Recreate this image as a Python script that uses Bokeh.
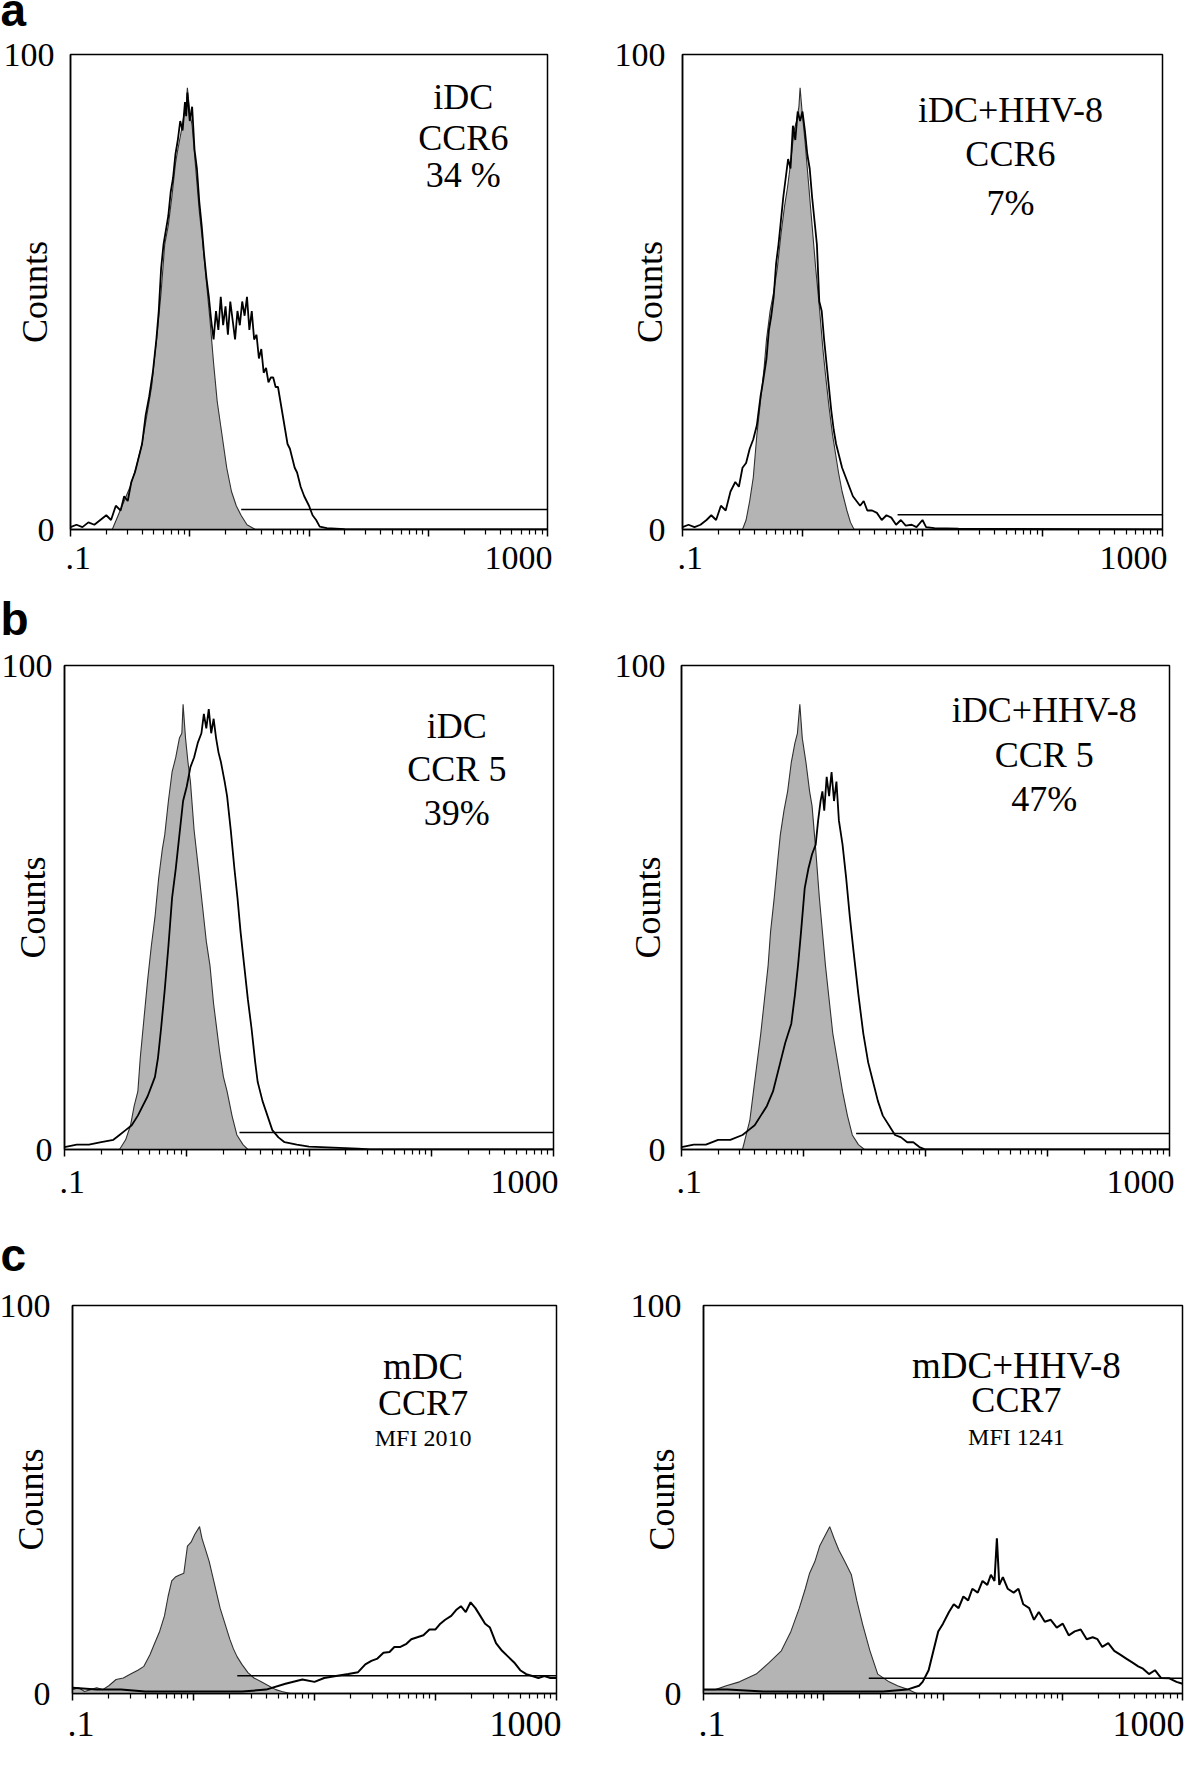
import math
from bokeh.plotting import figure
from bokeh.layouts import column, row
from bokeh.models import (FixedTicker, Label, Range1d, CustomJSTickFormatter, LogAxis)
from bokeh.embed import file_html
from bokeh.resources import INLINE

# ---------------- data (x given as log10 of fluorescence intensity) ----------------
x_major_ticks = [0.1, 1, 10, 100, 1000]
x_minor_ticks = [m * d for d in [0.1, 1, 10, 100] for m in range(2, 10)]
x_tick_labels = [".1", "1000"]
y_tick_values = [0, 100]

# panel a, left: iDC CCR6
a1_ctrl_lx = [-0.65, -0.60, -0.55, -0.50, -0.45, -0.40, -0.36, -0.32, -0.30, -0.27,
              -0.24, -0.21, -0.18, -0.15, -0.12, -0.10, -0.07, -0.05, -0.03, -0.02,
              0.00, 0.02, 0.05, 0.08, 0.11, 0.14, 0.17, 0.20, 0.23, 0.27,
              0.31, 0.35, 0.39, 0.43, 0.48, 0.55]
a1_ctrl_y = [0, 3, 6, 9, 13, 18, 24, 30, 35, 42,
             50, 60, 64, 70, 77, 80, 84, 87, 89, 93,
             88, 85, 76, 67, 60, 52, 44, 35, 27, 20,
             13, 8, 5, 3, 1, 0]
a1_samp_lx = [-1.00, -0.95, -0.90, -0.85, -0.80, -0.75, -0.70, -0.66, -0.62, -0.58,
              -0.55, -0.52, -0.49, -0.46, -0.43, -0.40, -0.37, -0.34, -0.31, -0.28,
              -0.26, -0.24, -0.22, -0.20, -0.18, -0.16, -0.14, -0.12, -0.10, -0.08,
              -0.06, -0.04, -0.03, -0.02, 0.00, 0.02, 0.04, 0.06, 0.08, 0.10,
              0.12, 0.14, 0.16, 0.18, 0.20, 0.22, 0.24, 0.26, 0.28, 0.30,
              0.32, 0.34, 0.36, 0.38, 0.40, 0.42, 0.44, 0.46, 0.48, 0.50,
              0.52, 0.54, 0.56, 0.58, 0.60, 0.62, 0.64, 0.66, 0.68, 0.70,
              0.72, 0.74, 0.76, 0.78, 0.80, 0.82, 0.84, 0.86, 0.88, 0.90,
              0.93, 0.96, 1.00, 1.03, 1.06, 1.09, 1.15, 1.30, 3.00]
a1_samp_y = [0.5, 1, 0.5, 1.5, 1, 2, 3, 2, 5, 4,
             7, 6, 10, 12, 15, 18, 24, 28, 33, 40,
             46, 55, 60, 63, 66, 71, 74, 79, 82, 86,
             84, 90, 87, 92, 86, 89, 80, 76, 69, 64,
             58, 53, 49, 44, 40, 46, 42, 49, 43, 47,
             41, 48, 44, 40, 46, 43, 48, 45, 49, 42,
             46, 40, 41, 36, 38, 33, 34, 31, 32, 32,
             30, 30, 27, 24, 21, 18, 17, 15, 13, 12,
             9, 7, 5, 3, 2, 0.6, 0.3, 0.1, 0]

# panel a, right: iDC+HHV-8 CCR6
a2_ctrl_lx = [-0.50, -0.47, -0.44, -0.41, -0.38, -0.35, -0.32, -0.30, -0.27, -0.24,
              -0.21, -0.18, -0.15, -0.125, -0.10, -0.07, -0.05, -0.03, -0.02, 0.00,
              0.02, 0.05, 0.08, 0.11, 0.14, 0.17, 0.19, 0.22, 0.25, 0.275,
              0.30, 0.33, 0.37, 0.40, 0.43]
a2_ctrl_y = [0, 2, 6, 11, 20, 27, 34, 40, 46, 50,
             55, 62, 68, 72, 77, 84, 86, 89, 93, 87,
             82, 73, 64, 55, 47, 38, 33, 26, 20, 16,
             12, 8, 4, 1.5, 0]
a2_samp_lx = [-1.00, -0.95, -0.90, -0.85, -0.80, -0.76, -0.72, -0.68, -0.64, -0.60,
              -0.56, -0.53, -0.50, -0.47, -0.44, -0.41, -0.38, -0.35, -0.33, -0.30,
              -0.28, -0.26, -0.24, -0.22, -0.20, -0.18, -0.16, -0.14, -0.12, -0.10,
              -0.08, -0.06, -0.04, -0.02, 0.00, 0.02, 0.04, 0.06, 0.08, 0.10,
              0.12, 0.14, 0.16, 0.18, 0.20, 0.22, 0.24, 0.26, 0.28, 0.30,
              0.33, 0.36, 0.39, 0.42, 0.45, 0.48, 0.51, 0.54, 0.58, 0.62,
              0.66, 0.70, 0.74, 0.78, 0.82, 0.86, 0.91, 0.95, 1.00, 1.03,
              1.10, 1.30, 3.00]
a2_samp_y = [0.5, 1, 0.5, 1, 2, 3, 2, 5, 4, 8,
             10, 9, 13, 14, 17, 19, 22, 28, 31, 36,
             42, 45, 49, 56, 60, 65, 70, 74, 78, 76,
             85, 82, 88, 86, 88, 84, 79, 76, 70, 65,
             60, 48, 46, 40, 35, 30, 25, 21, 18, 16,
             13, 11, 9, 7, 6, 5, 6, 4, 4, 3.5,
             2, 3, 2.5, 1, 2, 0.8, 1, 0.5, 2, 0.5,
             0.3, 0.2, 0]

# panel b, left: iDC CCR5
b1_ctrl_lx = [-0.55, -0.50, -0.46, -0.43, -0.40, -0.38, -0.35, -0.32, -0.29, -0.26,
              -0.23, -0.20, -0.18, -0.15, -0.12, -0.09, -0.06, -0.04, -0.03, -0.01,
              0.01, 0.03, 0.06, 0.10, 0.13, 0.16, 0.19, 0.22, 0.25, 0.27,
              0.30, 0.33, 0.37, 0.41, 0.46, 0.50]
b1_ctrl_y = [0, 2, 5, 9, 12, 19, 27, 35, 42, 48,
             56, 62, 65, 72, 78, 81, 85, 86, 92, 85,
             80, 76, 66, 57, 50, 43, 38, 30, 24, 20,
             15, 12, 7, 3, 1, 0]
b1_samp_lx = [-1.00, -0.90, -0.80, -0.70, -0.60, -0.55, -0.50, -0.45, -0.40, -0.36,
              -0.32, -0.29, -0.26, -0.235, -0.21, -0.18, -0.15, -0.12, -0.09, -0.06,
              -0.03, 0.00, 0.03, 0.06, 0.09, 0.12, 0.14, 0.16, 0.18, 0.20,
              0.22, 0.24, 0.26, 0.28, 0.31, 0.33, 0.36, 0.39, 0.415, 0.44,
              0.47, 0.50, 0.53, 0.56, 0.58, 0.62, 0.66, 0.70, 0.75, 0.80,
              0.90, 1.00, 1.20, 1.40, 1.50, 3.00]
b1_samp_y = [0.5, 1, 1, 1.5, 2, 3, 4, 5, 7, 9,
             11, 13, 15, 19, 25, 33, 42, 52, 58, 65,
             72, 75, 79, 81, 84, 86, 90, 87, 91, 86,
             89, 85, 82, 80, 76, 73, 66, 58, 52, 45,
             38, 31, 25, 18, 14, 10, 7, 4, 2.5, 1.5,
             1, 0.6, 0.4, 0.2, 0, 0]

# panel b, right: iDC+HHV-8 CCR5
b2_ctrl_lx = [-0.50, -0.47, -0.44, -0.41, -0.38, -0.35, -0.32, -0.29, -0.27, -0.24,
              -0.21, -0.19, -0.16, -0.13, -0.10, -0.07, -0.05, -0.03, -0.01, 0.02,
              0.05, 0.07, 0.10, 0.13, 0.155, 0.18, 0.21, 0.24, 0.28, 0.32,
              0.36, 0.40, 0.45, 0.50]
b2_ctrl_y = [0, 3, 6, 12, 18, 24, 31, 38, 45, 52,
             60, 65, 70, 74, 80, 84, 86, 92, 85, 80,
             74, 71, 62, 52, 45, 38, 31, 24, 18, 12,
             7, 3, 1, 0]
b2_samp_lx = [-1.00, -0.90, -0.80, -0.70, -0.60, -0.50, -0.45, -0.40, -0.35, -0.30,
              -0.25, -0.19, -0.15, -0.10, -0.07, -0.045, -0.02, 0.01, 0.04, 0.07,
              0.10, 0.12, 0.14, 0.155, 0.17, 0.19, 0.21, 0.23, 0.25, 0.27,
              0.29, 0.32, 0.35, 0.38, 0.41, 0.45, 0.49, 0.53, 0.57, 0.61,
              0.65, 0.70, 0.75, 0.80, 0.85, 0.90, 0.95, 1.00, 3.00]
b2_samp_y = [0.5, 1, 1, 2, 2, 3, 4, 5, 7, 9,
             12, 18, 22, 26, 32, 38, 45, 54, 58, 61,
             63, 68, 72, 74, 70, 77, 73, 78, 72, 76,
             68, 63, 56, 48, 41, 32, 24, 18, 14, 10,
             7, 5, 3, 2.5, 1.5, 1.5, 0.5, 0, 0]

# panel c, left: mDC CCR7
c1_ctrl_lx = [-1.00, -0.95, -0.90, -0.85, -0.80, -0.75, -0.70, -0.64, -0.58, -0.52,
              -0.46, -0.41, -0.36, -0.32, -0.28, -0.24, -0.21, -0.18, -0.15, -0.12,
              -0.08, -0.05, -0.02, 0.01, 0.05, 0.07, 0.10, 0.13, 0.16, 0.19,
              0.22, 0.26, 0.30, 0.33, 0.36, 0.40, 0.45, 0.50, 0.56, 0.62,
              0.68, 0.73, 0.80]
c1_ctrl_y = [1, 1.5, 0.5, 1, 1.5, 1, 2, 3.6, 4, 5,
             6, 7, 10, 13, 16, 20, 25, 29, 30, 30.5,
             31, 38, 39, 41, 43, 40, 37, 34, 30, 26,
             22, 18, 14, 11.5, 9.5, 7.5, 5.4, 4, 3, 2,
             1, 0.5, 0]
c1_samp_lx = [-1.00, -0.80, -0.60, -0.40, 0.00, 0.40, 0.60, 0.76, 0.90, 1.00,
              1.08, 1.19, 1.28, 1.36, 1.42, 1.47, 1.52, 1.57, 1.62, 1.66,
              1.71, 1.76, 1.80, 1.85, 1.90, 1.95, 2.00, 2.04, 2.08, 2.13,
              2.17, 2.21, 2.25, 2.29, 2.33, 2.37, 2.41, 2.45, 2.50, 2.55,
              2.60, 2.65, 2.70, 2.75, 2.80, 2.85, 2.90, 2.95, 3.00]
c1_samp_y = [1.5, 1, 1, 0.5, 0.5, 0.5, 1, 2.5, 3.6, 3,
             4, 4.6, 5, 5.5, 7.5, 8.4, 9, 10.5, 10.7, 12,
             12, 12.8, 14, 14.5, 15, 16.5, 16.5, 18, 19, 20,
             21.5, 22.5, 21, 23.5, 22, 20, 18, 17, 13, 11,
             9.5, 8, 6, 5, 4.5, 4, 4.5, 4, 4]

# panel c, right: mDC+HHV-8 CCR7
c2_ctrl_lx = [-1.00, -0.90, -0.81, -0.70, -0.56, -0.45, -0.35, -0.27, -0.20, -0.15,
              -0.114, -0.07, -0.03, 0.02, 0.054, 0.09, 0.13, 0.18, 0.235, 0.28,
              0.33, 0.39, 0.455, 0.55, 0.62, 0.71, 0.78]
c2_ctrl_y = [1, 1, 2, 3, 5, 8, 11, 16, 22, 27,
             31, 34, 38, 41, 43, 40, 37, 34, 30.6, 24,
             17.7, 11, 5, 3, 2, 1, 0]
c2_samp_lx = [-1.00, -0.80, -0.50, 0.00, 0.50, 0.70, 0.80, 0.83, 0.88, 0.92,
              0.96, 1.00, 1.05, 1.09, 1.13, 1.17, 1.21, 1.245, 1.29, 1.33,
              1.37, 1.40, 1.43, 1.45, 1.47, 1.50, 1.54, 1.59, 1.63, 1.67,
              1.72, 1.76, 1.80, 1.85, 1.90, 1.95, 2.00, 2.05, 2.10, 2.15,
              2.20, 2.25, 2.29, 2.33, 2.38, 2.43, 2.48, 2.53, 2.58, 2.63,
              2.67, 2.72, 2.77, 2.82, 2.89, 2.95, 3.00]
c2_samp_y = [1, 1, 0.5, 0.5, 0.5, 1, 2, 3, 6, 11,
             16, 18, 21, 23, 22, 25, 24, 27, 26, 29,
             28, 30.6, 29, 40, 28, 30, 27, 26, 27, 23,
             22, 19, 21, 18.5, 19, 17, 18, 15, 16, 16.5,
             14, 14.5, 14, 12, 13, 11, 10, 9, 8, 7,
             6.4, 5, 6, 4, 3.9, 3, 2.5]

# marker (gate) start and level for each panel
gate_start = {"a1": 2.7, "a2": 6.2, "b1": 2.7, "b2": 2.7, "c1": 2.3, "c2": 2.4}
gate_level = {"a1": 4.2, "a2": 3.1, "b1": 3.5, "b2": 3.3, "c1": 4.6, "c2": 3.9}

annotations = {
    "a1": ["iDC", "CCR6", "34 %"],
    "a2": ["iDC+HHV-8", "CCR6", "7%"],
    "b1": ["iDC", "CCR 5", "39%"],
    "b2": ["iDC+HHV-8", "CCR 5", "47%"],
    "c1": ["mDC", "CCR7", "MFI 2010"],
    "c2": ["mDC+HHV-8", "CCR7", "MFI 1241"],
}
panel_letters = ["a", "b", "c"]

SERIF = "Liberation Serif"
GREY = "#b4b4b4"
PAGE_W = 1184
Y_FS = 34


def to_fl(lx):
    return [10 ** v for v in lx]


# layout specs: size, borders, y-label standoff, x-label standoff, annotation placement
specs = {
    "a1": dict(w=612, h=552, bl=70, br=65, bt=20, bb=52, ys=16, xs=4, xfs=34,
               ann_x=197, ann_y=[91, 82.5, 74.6], ann_fs=[36, 36, 36], counts_d=42),
    "a2": dict(w=572, h=552, bl=70, br=22, bt=25, bb=52, ys=17, xs=4, xfs=34,
               ann_x=54, ann_y=[88.4, 79, 68.8], ann_fs=[36, 36, 36], counts_d=40),
    "b1": dict(w=612, h=560, bl=64, br=59, bt=20, bb=56, ys=12, xs=8, xfs=34,
               ann_x=162, ann_y=[87.4, 78.7, 69.6], ann_fs=[36, 36, 36], counts_d=39),
    "b2": dict(w=572, h=560, bl=69, br=15, bt=20, bb=55, ys=16, xs=8, xfs=34,
               ann_x=94, ann_y=[90.9, 81.6, 72.4], ann_fs=[36, 36, 36], counts_d=41),
    "c1": dict(w=612, h=468, bl=72, br=56, bt=20, bb=56, ys=22, xs=5, xfs=36,
               ann_x=79, ann_y=[84.2, 75, 65.8], ann_fs=[37, 36, 24], counts_d=49),
    "c2": dict(w=572, h=468, bl=91, br=2, bt=24, bb=55, ys=22, xs=5, xfs=36,
               ann_x=41, ann_y=[84.6, 75.6, 66], ann_fs=[37, 36, 24], counts_d=49),
}

series = {
    "a1": (a1_ctrl_lx, a1_ctrl_y, a1_samp_lx, a1_samp_y),
    "a2": (a2_ctrl_lx, a2_ctrl_y, a2_samp_lx, a2_samp_y),
    "b1": (b1_ctrl_lx, b1_ctrl_y, b1_samp_lx, b1_samp_y),
    "b2": (b2_ctrl_lx, b2_ctrl_y, b2_samp_lx, b2_samp_y),
    "c1": (c1_ctrl_lx, c1_ctrl_y, c1_samp_lx, c1_samp_y),
    "c2": (c2_ctrl_lx, c2_ctrl_y, c2_samp_lx, c2_samp_y),
}


def make_panel(key):
    s = specs[key]
    ctrl_lx, ctrl_y, samp_lx, samp_y = series[key]
    fw = s["w"] - s["bl"] - s["br"]
    lo, hi = x_major_ticks[0], x_major_ticks[-1]
    decades = math.log10(hi / lo)
    p = figure(width=s["w"], height=s["h"], x_axis_type="log",
               x_range=Range1d(lo, hi), y_range=Range1d(0, 100),
               output_backend="svg", toolbar_location=None,
               min_border_left=s["bl"], min_border_right=s["br"],
               min_border_top=s["bt"], min_border_bottom=s["bb"])
    p.background_fill_color = "white"
    p.border_fill_color = "white"
    p.xgrid.visible = False
    p.ygrid.visible = False
    p.outline_line_color = "black"
    p.outline_line_width = 1.5

    # main (log) x axis: decade and minor ticks
    xa = p.xaxis[0]
    xa.ticker = FixedTicker(ticks=x_major_ticks, minor_ticks=x_minor_ticks)
    xa.formatter = CustomJSTickFormatter(code="return ''")
    xa.major_label_text_font_size = "1px"
    xa.major_label_standoff = 0
    xa.axis_line_color = "black"
    xa.axis_line_width = 1.5
    xa.major_tick_line_color = "black"
    xa.major_tick_line_width = 1.5
    xa.major_tick_in = 0
    xa.major_tick_out = 7
    xa.minor_tick_line_color = "black"
    xa.minor_tick_line_width = 1.2
    xa.minor_tick_in = 0
    xa.minor_tick_out = 5

    # end labels ".1" and "1000", set flush with the frame ends as in the original
    fs = s["xfs"]
    px0 = -5 + 0.375 * fs          # centre of ".1" from frame left (px)
    px1 = fw + 5 - fs              # centre of "1000" from frame left (px)
    anchors = [lo * 10 ** (decades * px0 / fw), lo * 10 ** (decades * px1 / fw)]
    lab_axis = LogAxis(ticker=FixedTicker(ticks=anchors),
                       formatter=CustomJSTickFormatter(args=dict(labels=x_tick_labels),
                                                       code="return labels[index]"))
    lab_axis.axis_line_color = None
    lab_axis.major_tick_line_color = None
    lab_axis.minor_tick_line_color = None
    lab_axis.major_label_text_font = SERIF
    lab_axis.major_label_text_font_size = f"{fs}px"
    lab_axis.major_label_text_color = "black"
    lab_axis.major_label_standoff = s["xs"]
    p.add_layout(lab_axis, "below")

    # y axis with 0 / 100 and "Counts"
    ya = p.yaxis[0]
    ya.ticker = FixedTicker(ticks=y_tick_values)
    ya.major_label_text_font = SERIF
    ya.major_label_text_font_size = f"{Y_FS}px"
    ya.major_label_text_color = "black"
    ya.major_label_standoff = s["ys"]
    ya.major_tick_in = 0
    ya.major_tick_out = 0
    ya.minor_tick_in = 0
    ya.minor_tick_out = 0
    ya.axis_line_color = "black"
    ya.axis_line_width = 1.5
    ya.axis_label = "Counts"
    ya.axis_label_text_font = SERIF
    ya.axis_label_text_font_size = "36px"
    ya.axis_label_text_font_style = "normal"
    ya.axis_label_text_color = "black"
    tick_label_extent = s["ys"] + 1.5 * Y_FS
    ya.axis_label_standoff = int(round(s["counts_d"] - 29.5 - tick_label_extent))

    # control (isotype) histogram: grey filled
    cx = to_fl(ctrl_lx)
    p.varea(x=cx, y1=[0] * len(cx), y2=ctrl_y, fill_color=GREY)
    p.line(cx, ctrl_y, line_color="#303030", line_width=1.1)
    # stained sample histogram: black line
    sx = to_fl(samp_lx)
    p.line(sx, samp_y, line_color="black", line_width=1.8 if key[0] != "c" else 2.0)
    # marker bar
    p.line([gate_start[key], hi], [gate_level[key], gate_level[key]],
           line_color="black", line_width=1.5)

    # annotation text
    for txt, yy, afs in zip(annotations[key], s["ann_y"], s["ann_fs"]):
        p.add_layout(Label(x=s["ann_x"], y=yy, text=txt, text_font=SERIF,
                           text_font_size=f"{afs}px", text_color="black",
                           text_align="center", text_baseline="middle"))
    return p


def letter_strip(letter, h, bottom_from_top):
    p = figure(width=PAGE_W, height=h, x_range=Range1d(0, PAGE_W), y_range=Range1d(0, h),
               output_backend="svg", toolbar_location=None,
               min_border_left=0, min_border_right=0, min_border_top=0, min_border_bottom=0,
               x_axis_location=None, y_axis_location=None)
    p.xgrid.visible = False
    p.ygrid.visible = False
    p.outline_line_color = None
    p.background_fill_color = "white"
    p.border_fill_color = "white"
    p.add_layout(Label(x=0, y=h - bottom_from_top, text=letter, text_font="Liberation Sans",
                       text_font_style="bold", text_font_size="46px", text_color="black",
                       text_align="left", text_baseline="bottom"))
    return p


layout = column(
    letter_strip(panel_letters[0], 29, 35),
    row(make_panel("a1"), make_panel("a2")),
    letter_strip(panel_letters[1], 64, 63),
    row(make_panel("b1"), make_panel("b2")),
    letter_strip(panel_letters[2], 76, 75),
    row(make_panel("c1"), make_panel("c2")),
)

open("out.html", "w").write(file_html(layout, INLINE))
